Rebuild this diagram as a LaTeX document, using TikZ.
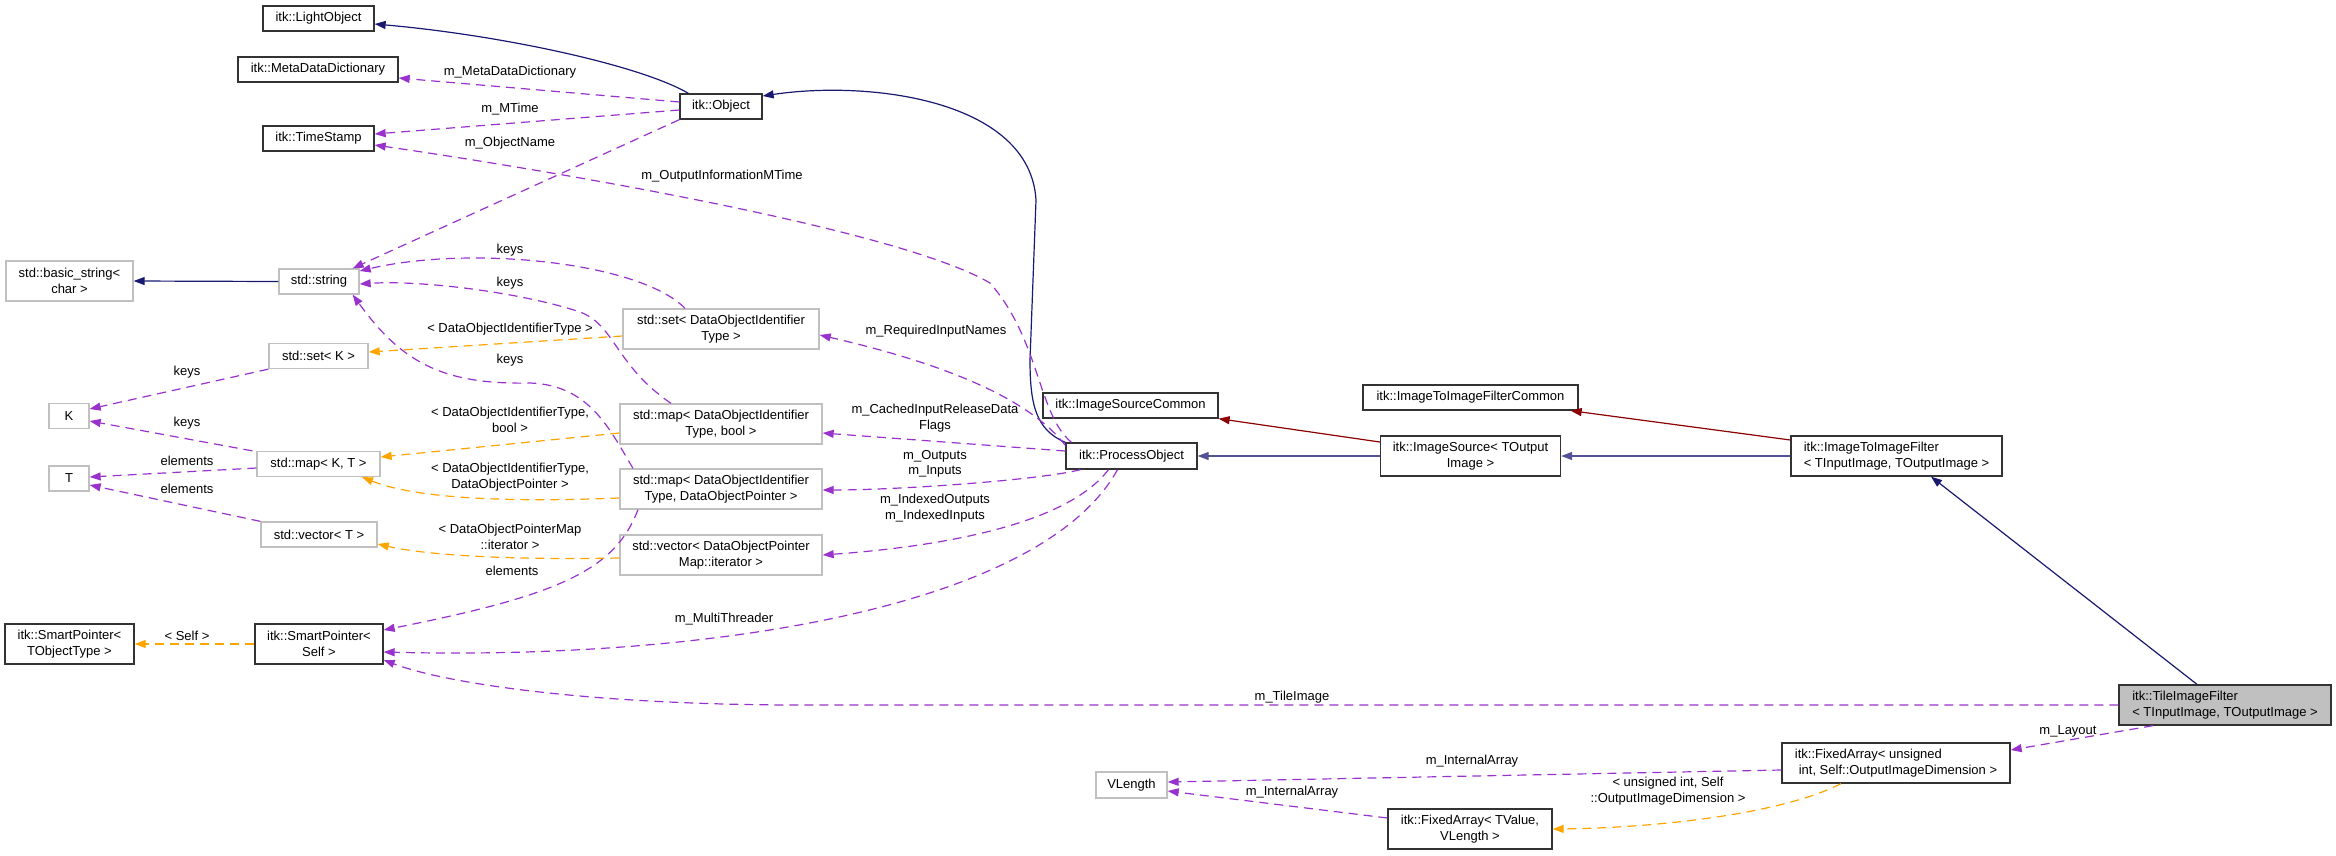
\documentclass[tikz,border=0pt]{standalone}
\usepackage[svgnames]{xcolor}
\usepackage{fontspec}
\setmainfont{Liberation Sans}
\usepackage{tikz}
\usetikzlibrary{arrows.meta}
\tikzstyle{clsbox} = [rectangle, draw=black!80, line width=1.3pt, fill=white, inner sep=0pt,
                      minimum height=25pt, align=center]
\tikzstyle{extbox} = [clsbox, draw=Silver]
\tikzstyle{lbl} = [inner sep=0pt, align=center]
\tikzstyle{inherit} = [line width=1.2pt, draw=MidnightBlue, ->, >={Triangle[length=11pt,width=8pt]}]
\tikzstyle{inheritcmn} = [inherit, draw=DarkRed]
\tikzstyle{usage} = [line width=1.2pt, draw=DarkOrchid, dash pattern=on 9pt off 6pt, ->, >={Triangle[length=11pt,width=8pt]}]
\tikzstyle{tmpl} = [usage, draw=Orange]

\begin{document}
\begin{tikzpicture}[x=1pt, y=-1pt, font=\fontsize{13}{15.5}\selectfont]
  \useasboundingbox (0,0) rectangle (2336,855);

  % classes
  \node (lightobj) [clsbox, minimum width=111pt] at (318.5,18.5) {itk::LightObject};
  \node (metadict) [clsbox, minimum width=160pt] at (318,69.5) {itk::MetaDataDictionary};
  \node (tstamp) [clsbox, minimum width=111pt] at (318.5,138.5) {itk::TimeStamp};
  \node (object) [clsbox, minimum width=82pt] at (721,106.5) {itk::Object};
  \node (basicstr) [extbox, minimum width=127pt, minimum height=40pt] at (69.5,281) {std::basic\_string<\\char >};
  \node (stdstr) [extbox, minimum width=80pt] at (319,281.5) {std::string};
  \node (setk) [extbox, minimum width=99pt] at (318.5,356) {std::set< K >};
  \node (kpar) [extbox, minimum width=40pt] at (69,416) {K};
  \node (mapkt) [extbox, minimum width=123pt] at (318.5,464) {std::map< K, T >};
  \node (tpar) [extbox, minimum width=40pt] at (69,478.5) {T};
  \node (vect) [extbox, minimum width=116pt] at (319,534.5) {std::vector< T >};
  \node (setdoit) [extbox, minimum width=196pt, minimum height=40pt] at (721,329) {std::set< DataObjectIdentifier\\Type >};
  \node (mapbool) [extbox, minimum width=202pt, minimum height=40pt] at (721,424) {std::map< DataObjectIdentifier\\Type, bool >};
  \node (mapptr) [extbox, minimum width=202pt, minimum height=40pt] at (721,489) {std::map< DataObjectIdentifier\\Type, DataObjectPointer >};
  \node (vecit) [extbox, minimum width=202pt, minimum height=40pt] at (721,555) {std::vector< DataObjectPointer\\Map::iterator >};
  \node (sptobj) [clsbox, minimum width=129pt, minimum height=40pt] at (69.5,644) {itk::SmartPointer<\\TObjectType >};
  \node (spself) [clsbox, minimum width=128pt, minimum height=40pt] at (319,644) {itk::SmartPointer<\\Self >};
  \node (imgsrccmn) [clsbox, minimum width=175pt] at (1130.5,405.5) {itk::ImageSourceCommon};
  \node (procobj) [clsbox, minimum width=131pt, minimum height=26pt] at (1131.5,456) {itk::ProcessObject};
  \node (itifcmn) [clsbox, minimum width=215pt] at (1470.5,397.5) {itk::ImageToImageFilterCommon};
  \node (imgsrc) [clsbox, minimum width=180pt, minimum height=40pt] at (1470.5,456) {itk::ImageSource< TOutput\\Image >};
  \node (itif) [clsbox, minimum width=211pt, minimum height=40pt, align=left] at (1896.5,456) {itk::ImageToImageFilter\\< TInputImage, TOutputImage >};
  \node (tile) [clsbox, minimum width=212pt, minimum height=40pt, align=left, fill=Silver] at (2225,705) {itk::TileImageFilter\\< TInputImage, TOutputImage >};
  \node (fixedu) [clsbox, minimum width=228pt, minimum height=40pt, align=left] at (1896,763) {itk::FixedArray< unsigned\\\hspace{0.3em}int, Self::OutputImageDimension >};
  \node (fixedt) [clsbox, minimum width=164pt, minimum height=40pt] at (1470,829) {itk::FixedArray< TValue,\\VLength >};
  \node (vlength) [extbox, minimum width=71pt, minimum height=26pt] at (1131.5,785) {VLength};

  % inheritance
  \draw [inherit] (object.158) .. controls (640,65) and (500,35) .. ([yshift=-5.5]lightobj.east);
  \draw [inherit] (stdstr.west) -- (basicstr.east);
  \draw [inherit] (procobj.north west) .. controls (1036,430) and (1030,405) .. (1030,360) -- (1036,200)
        .. controls (1030,100) and (870,80) .. ([yshift=10.5]object.east);
  \draw [inherit, draw=MidnightBlue!75] (imgsrc.west) -- (procobj.east);
  \draw [inheritcmn] ([yshift=14]imgsrc.west) -- (imgsrccmn.south east);
  \draw [inherit, draw=MidnightBlue!75] (itif.west) -- (imgsrc.east);
  \draw [inheritcmn] ([yshift=16]itif.west) -- ([xshift=-8]itifcmn.south east);
  \draw [inherit] ([xshift=-28]tile.north) -- ([xshift=34.5]itif.south);

  % members
  \draw [usage] ([yshift=4.5]object.west) -- ([yshift=-8.5]metadict.east);
  \draw [usage] ([yshift=-3.5]object.west) -- ([yshift=4.5]tstamp.east);
  \draw [usage] (object.south west) -- ([xshift=-7]stdstr.north east);
  \draw [usage] ([xshift=-60]procobj.north) .. controls (1038,415) and (1040,340) .. (990,283)
        .. controls (900,230) and (560,172) .. ([yshift=-6.5]tstamp.east);
  \draw [usage] ([xshift=-36]setdoit.north) .. controls (640,262) and (470,245) .. ([yshift=10.5]stdstr.east);
  \draw [usage] ([xshift=-50]mapbool.north) .. controls (615,365) and (615,325) .. (580,312)
        .. controls (520,292) and (420,280) .. ([yshift=-2.5]stdstr.east);
  \draw [usage] ([xshift=-88]mapptr.north) .. controls (610,430) and (590,385) .. (530,383)
        .. controls (440,385) and (400,360) .. ([xshift=-7]stdstr.south east);
  \draw [usage] (setk.south west) -- ([yshift=7]kpar.east);
  \draw [usage] ([xshift=-4]mapkt.north west) -- ([yshift=-5]kpar.east);
  \draw [usage] ([yshift=-4]mapkt.west) -- ([yshift=1.5]tpar.east);
  \draw [usage] (vect.north west) -- ([yshift=-6.5]tpar.east);
  \draw [usage] ([yshift=-3]procobj.north west) .. controls (1030,400) and (950,365) .. ([yshift=-6]setdoit.east);
  \draw [usage] ([yshift=5]procobj.west) -- ([yshift=-9]mapbool.east);
  \draw [usage] ([xshift=-51]procobj.south) .. controls (1040,480) and (900,490) .. ([yshift=-1]mapptr.east);
  \draw [usage] ([xshift=-23]procobj.south) .. controls (1070,520) and (960,545) .. (vecit.east);
  \draw [usage] ([xshift=-14]procobj.south) .. controls (1040,610) and (700,660) .. ([yshift=-8]spself.east);
  \draw [usage] ([xshift=-83]mapptr.south) .. controls (615,570) and (560,595) .. ([yshift=14]spself.east);
  \draw [usage] (tile.west) -- (800,705) .. controls (600,705) and (450,685) .. ([yshift=-16]spself.east);
  \draw [usage] ([xshift=-72]tile.south) -- ([yshift=13]fixedu.east);
  \draw [usage] ([yshift=-7]fixedu.west) -- ([yshift=3]vlength.east);
  \draw [usage] ([yshift=11]fixedt.west) -- ([yshift=-6]vlength.east);

  % template arguments
  \draw [tmpl] (spself.west) -- (sptobj.east);
  \draw [tmpl] ([yshift=-7]setdoit.west) -- ([yshift=4]setk.east);
  \draw [tmpl] ([yshift=-9]mapbool.west) -- ([yshift=7]mapkt.east);
  \draw [tmpl] ([yshift=-9]mapptr.west) .. controls (520,502) and (420,500) .. ([xshift=43.5]mapkt.south);
  \draw [tmpl] ([yshift=-3]vecit.west) .. controls (520,560) and (430,556) .. ([yshift=-9.5]vect.east);
  \draw [tmpl] ([xshift=-55]fixedu.south) .. controls (1780,815) and (1650,828) .. (fixedt.east);

  % labels
  \node (lmeta) [lbl] at (510,72) {m\_MetaDataDictionary};
  \node (lmtime) [lbl] at (510,109) {m\_MTime};
  \node (lobjname) [lbl] at (510,143) {m\_ObjectName};
  \node (loutinfo) [lbl] at (722,176) {m\_OutputInformationMTime};
  \node (lkeysa) [lbl] at (510,250) {keys};
  \node (lkeysb) [lbl] at (510,283) {keys};
  \node (lkeysc) [lbl] at (510,360) {keys};
  \node (lkset) [lbl] at (187,372) {keys};
  \node (lkmap) [lbl] at (187,423) {keys};
  \node (lelmap) [lbl] at (187,461) {elements};
  \node (lelvec) [lbl] at (187,489) {elements};
  \node (ldoit) [lbl] at (510,329) {< DataObjectIdentifierType >};
  \node (ldoitb) [lbl] at (510,420) {< DataObjectIdentifierType,\\bool >};
  \node (ldoitp) [lbl] at (510,477) {< DataObjectIdentifierType,\\DataObjectPointer >};
  \node (ldopm) [lbl] at (510,537) {< DataObjectPointerMap\\::iterator >};
  \node (lreq) [lbl] at (936,331) {m\_RequiredInputNames};
  \node (lcached) [lbl] at (935,418) {m\_CachedInputReleaseData\\Flags};
  \node (lio) [lbl] at (935,464) {m\_Outputs\\m\_Inputs};
  \node (lidx) [lbl] at (935,508) {m\_IndexedOutputs\\m\_IndexedInputs};
  \node (lthreader) [lbl] at (724,619) {m\_MultiThreader};
  \node (lelem) [lbl] at (512,571) {elements};
  \node (lself) [lbl] at (187,636) {< Self >};
  \node (ltile) [lbl] at (1292,697) {m\_TileImage};
  \node (llayout) [lbl] at (2068,731) {m\_Layout};
  \node (liau) [lbl] at (1472,761) {m\_InternalArray};
  \node (liat) [lbl] at (1292,792) {m\_InternalArray};
  \node (luint) [lbl] at (1668,791) {< unsigned int, Self\\::OutputImageDimension >};
\end{tikzpicture}
\end{document}
